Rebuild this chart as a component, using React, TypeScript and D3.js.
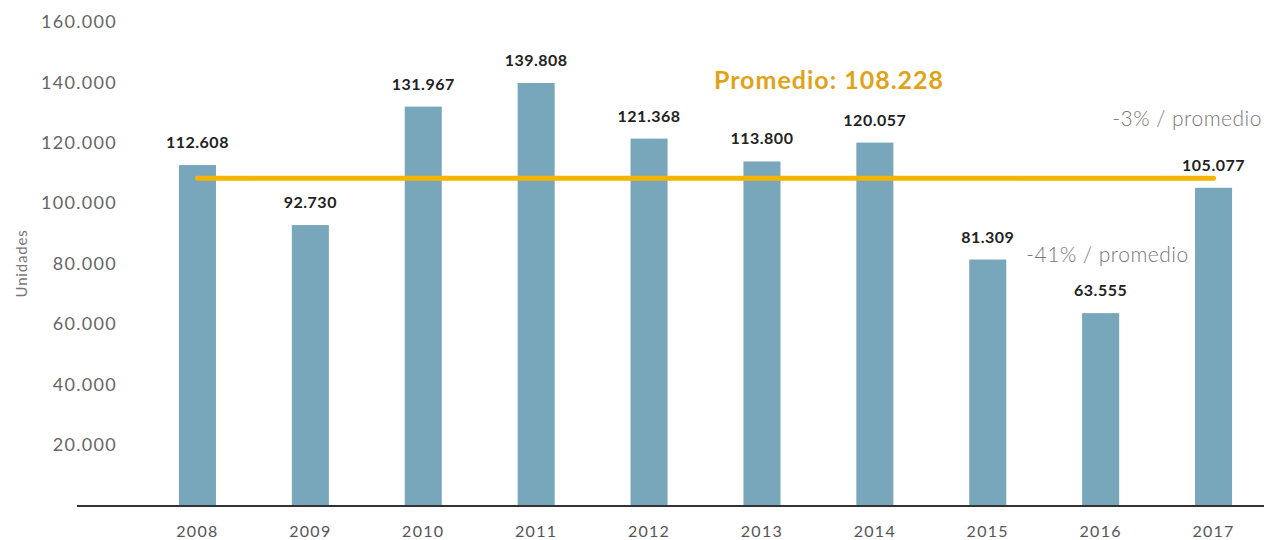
import React, { useEffect, useRef } from "react";
import * as d3 from "d3";

const years = ["2008", "2009", "2010", "2011", "2012", "2013", "2014", "2015", "2016", "2017"];
const units = [112608, 92730, 131967, 139808, 121368, 113800, 120057, 81309, 63555, 105077];
const average = 108228;
const yTicks = [20000, 40000, 60000, 80000, 100000, 120000, 140000, 160000];
const notes = [
  { text: "-3% / promedio", year: "2017", value: 128000 },
  { text: "-41% / promedio", year: "2015", value: 83000 },
];

const fmt = (v: number) => d3.format(",")(v).replace(/,/g, ".");

export default function App() {
  const ref = useRef<SVGSVGElement>(null);

  useEffect(() => {
    const width = 1264;
    const font = "Lato, 'Open Sans', sans-serif";

    const svg = d3.select(ref.current);
    svg.selectAll("*").remove();

    const x = d3.scaleBand<string>()
      .domain(years)
      .range([141, 1270])
      .paddingInner(0.672)
      .paddingOuter(0.336);

    const y = d3.scaleLinear()
      .domain([0, 160000])
      .range([505, 22]);

    // y tick labels
    svg.append("g")
      .selectAll("text")
      .data(yTicks)
      .join("text")
        .attr("x", 117)
        .attr("y", (d) => y(d))
        .attr("dy", "0.35em")
        .attr("text-anchor", "end")
        .attr("font-family", font)
        .attr("font-size", 18)
        .attr("letter-spacing", 1.3)
        .attr("fill", "#666")
        .text((d) => fmt(d));

    svg.append("text")
      .attr("transform", `translate(27,${y(80000)}) rotate(-90)`)
      .attr("text-anchor", "middle")
      .attr("font-family", font)
      .attr("font-size", 15)
      .attr("letter-spacing", 0.8)
      .attr("fill", "#777")
      .text("Unidades");

    // bars
    svg.append("g")
      .selectAll("rect")
      .data(units)
      .join("rect")
        .attr("x", (d, i) => x(years[i])!)
        .attr("y", (d) => y(d))
        .attr("width", x.bandwidth())
        .attr("height", (d) => y(0) - y(d))
        .attr("fill", "#78a6ba");

    // value labels
    svg.append("g")
      .selectAll("text")
      .data(units)
      .join("text")
        .attr("x", (d, i) => x(years[i])! + x.bandwidth() / 2)
        .attr("y", (d) => y(d) - 17)
        .attr("text-anchor", "middle")
        .attr("font-family", font)
        .attr("font-size", 16)
        .attr("font-weight", 700)
        .attr("letter-spacing", 0.5)
        .attr("fill", "#222")
        .text((d) => fmt(d));

    // x axis
    svg.append("line")
      .attr("x1", 77)
      .attr("x2", width)
      .attr("y1", 506)
      .attr("y2", 506)
      .attr("stroke", "#333")
      .attr("stroke-width", 2);

    svg.append("g")
      .selectAll("text")
      .data(years)
      .join("text")
        .attr("x", (d) => x(d)! + x.bandwidth() / 2)
        .attr("y", 537)
        .attr("text-anchor", "middle")
        .attr("font-family", font)
        .attr("font-size", 16)
        .attr("letter-spacing", 1.3)
        .attr("fill", "#555")
        .text((d) => d);

    // average line
    const line = d3.line<string>()
      .x((d) => x(d)! + x.bandwidth() / 2)
      .y(() => y(average));
    svg.append("path")
      .attr("d", line([years[0], years[years.length - 1]]))
      .attr("stroke", "#f5b400")
      .attr("stroke-width", 5)
      .attr("stroke-linecap", "round")
      .attr("fill", "none");

    svg.append("text")
      .attr("x", 829)
      .attr("y", 89)
      .attr("text-anchor", "middle")
      .attr("font-family", font)
      .attr("font-size", 25)
      .attr("font-weight", 700)
      .attr("letter-spacing", 1)
      .attr("fill", "#e0a318")
      .text(`Promedio: ${fmt(average)}`);

    // notes
    svg.append("g")
      .selectAll("text")
      .data(notes)
      .join("text")
        .attr("x", (d) => (d.year === "2017" ? 1262 : x(d.year)! + x.bandwidth() + 20))
        .attr("y", (d) => y(d.value))
        .attr("dy", "0.35em")
        .attr("text-anchor", (d) => (d.year === "2017" ? "end" : "start"))
        .attr("font-family", font)
        .attr("font-size", 21)
        .attr("font-weight", 300)
        .attr("letter-spacing", 0.5)
        .attr("fill", "#777")
        .text((d) => d.text);
  });

  return (
    <svg
      ref={ref}
      width={1264}
      height={540}
      style={{ position: "absolute", left: 0, top: 0 }}
    />
  );
}
